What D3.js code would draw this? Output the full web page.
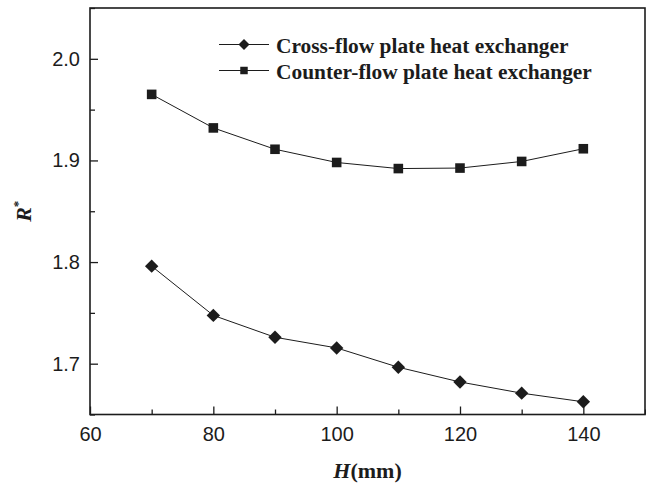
<!DOCTYPE html>
<html>
<head>
<meta charset="utf-8">
<script src="https://cdn.jsdelivr.net/npm/d3@7"></script>
<style>
  body { margin: 0; background: #fff; }
  svg { display: block; }
</style>
</head>
<body>
<svg id="chart" width="646" height="487"></svg>
<script>
// data
var heights = [70, 80, 90, 100, 110, 120, 130, 140]
var crossFlow = [1.796, 1.7475, 1.726, 1.7155, 1.6965, 1.682, 1.671, 1.6625]
var counterFlow = [1.965, 1.932, 1.911, 1.898, 1.892, 1.8925, 1.899, 1.9115]
var xTicks = [60, 80, 100, 120, 140]
var yTicks = [1.7, 1.8, 1.9, 2.0]
var seriesNames = ['Cross-flow plate heat exchanger', 'Counter-flow plate heat exchanger']

var svg = d3.select('#chart')
  , ink = '#1c1c1c'
  , plotL = 90, plotR = 645, plotT = 8, plotB = 414.5

var x = d3.scaleLinear().domain([60, 150]).range([plotL, plotR])
var y = d3.scaleLinear().domain([1.65, 2.05]).range([plotB, plotT])

var series = [
  { name: seriesNames[0], values: crossFlow, shape: 'diamond' },
  { name: seriesNames[1], values: counterFlow, shape: 'square' }
]

//marker path, diamond is a square turned by 45deg
function marker (g, shape, size) {
  return g.append('path')
    .attr('d', d3.symbol().type(d3.symbolSquare).size(size)())
    .attr('transform', shape === 'diamond' ? 'rotate(45)' : null)
    .attr('fill', ink)
}

// axes, ticks pointing inwards
var xAxis = d3.axisBottom(x).tickValues(d3.range(60, 151, 10))
  .tickSize(-5).tickPadding(12)
  .tickFormat(function (d) { return xTicks.indexOf(d) >= 0 ? d : '' })
var gx = svg.append('g').attr('transform', 'translate(0,' + plotB + ')').call(xAxis)
gx.selectAll('.tick line').filter(function (d) { return d % 20 === 0 }).attr('y2', -8)

var yAxis = d3.axisLeft(y).tickValues(d3.range(1.65, 2.051, 0.05).map(function (v) { return +v.toFixed(2) }))
  .tickSize(-5).tickPadding(10)
  .tickFormat(function (d) { return yTicks.indexOf(d) >= 0 ? d.toFixed(1) : '' })
var gy = svg.append('g').attr('transform', 'translate(' + plotL + ',0)').call(yAxis)
gy.selectAll('.tick line').filter(function (d) { return yTicks.indexOf(d) >= 0 }).attr('x2', 8)

svg.selectAll('.domain').remove()
svg.selectAll('.tick line').attr('stroke', ink).attr('stroke-width', 1.3)
svg.selectAll('.tick text')
  .attr('fill', ink)
  .style('font-family', '"Liberation Sans", Arial, sans-serif')
  .style('font-size', '20px')

// frame
svg.append('rect')
  .attr('x', plotL).attr('y', plotT)
  .attr('width', plotR - plotL).attr('height', plotB - plotT)
  .attr('fill', 'none').attr('stroke', ink).attr('stroke-width', 1.6)

// lines and markers
var line = d3.line()
  .x(function (d, i) { return x(heights[i]) })
  .y(function (d) { return y(d) })

series.forEach(function (s) {
  svg.append('path')
    .attr('d', line(s.values))
    .attr('fill', 'none').attr('stroke', ink).attr('stroke-width', 1)

  svg.append('g').selectAll('g')
    .data(s.values)
    .enter()
    .append('g')
    .attr('transform', function (d, i) { return 'translate(' + x(heights[i]) + ',' + y(d) + ')' })
    .each(function () {
      marker(d3.select(this), s.shape, s.shape === 'diamond' ? 90 : 92)
    })
})

// legend
var legend = svg.append('g')
series.forEach(function (s, i) {
  var row = legend.append('g').attr('transform', 'translate(0,' + (44.5 + i * 26) + ')')
  row.append('line')
    .attr('x1', 219).attr('x2', 269)
    .attr('stroke', ink).attr('stroke-width', 1.2)
  marker(row.append('g').attr('transform', 'translate(244,0)'), s.shape, s.shape === 'diamond' ? 60 : 56)
  row.append('text')
    .attr('x', 276).attr('y', 8)
    .attr('fill', ink)
    .style('font-family', '"Liberation Serif", "Times New Roman", serif')
    .style('font-weight', 'bold')
    .style('font-size', '21.4px')
    .text(s.name)
})

// axis titles
var xTitle = svg.append('text')
  .attr('x', (plotL + plotR) / 2).attr('y', 478)
  .attr('text-anchor', 'middle')
  .attr('fill', ink)
  .style('font-family', '"Liberation Serif", "Times New Roman", serif')
  .style('font-weight', 'bold')
  .style('font-size', '22px')
xTitle.append('tspan').style('font-style', 'italic').text('H')
xTitle.append('tspan').text('(mm)')

var yTitle = svg.append('text')
  .attr('transform', 'translate(31,' + ((plotT + plotB) / 2) + ') rotate(-90)')
  .attr('text-anchor', 'middle')
  .attr('fill', ink)
  .style('font-family', '"Liberation Serif", "Times New Roman", serif')
  .style('font-weight', 'bold')
  .style('font-size', '22px')
yTitle.append('tspan').style('font-style', 'italic').text('R')
yTitle.append('tspan').attr('dy', -9).style('font-size', '13px').text('*')
</script>
</body>
</html>
